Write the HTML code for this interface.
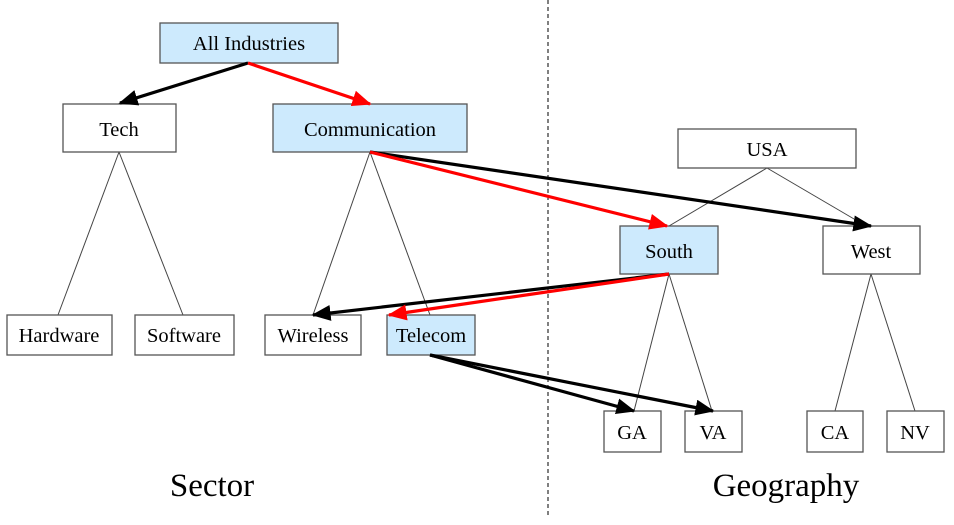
<!DOCTYPE html>
<html><head><meta charset="utf-8"><style>
html,body{margin:0;padding:0;background:#fff;}
svg{display:block;}
text{font-family:"Liberation Serif",serif;fill:#000;}
</style></head><body>
<svg width="954" height="525" viewBox="0 0 954 525" xmlns="http://www.w3.org/2000/svg">
<defs>
<marker id="ab" markerWidth="6" markerHeight="5" refX="5.5" refY="2.5" orient="auto" markerUnits="strokeWidth"><path d="M0,0 L6,2.5 L0,5 Z" fill="#000"/></marker>
<marker id="ar" markerWidth="6" markerHeight="5" refX="5.5" refY="2.5" orient="auto" markerUnits="strokeWidth"><path d="M0,0 L6,2.5 L0,5 Z" fill="#f00"/></marker>
</defs>
<line x1="548" y1="0" x2="548" y2="517" stroke="#000" stroke-width="1" stroke-dasharray="4,3"/>
<g stroke="#444" stroke-width="1" fill="none">
<line x1="119" y1="152" x2="58" y2="315"/><line x1="119" y1="152" x2="183" y2="315"/>
<line x1="370" y1="152" x2="313" y2="315"/><line x1="370" y1="152" x2="430" y2="315"/>
<line x1="767" y1="168" x2="669" y2="226"/><line x1="767" y1="168" x2="866" y2="226"/>
<line x1="669" y1="274" x2="634" y2="411"/><line x1="669" y1="274" x2="712" y2="411"/>
<line x1="871" y1="274" x2="835" y2="411"/><line x1="871" y1="274" x2="915" y2="411"/>
</g>
<g stroke="#555" stroke-width="1.3">
<rect x="160" y="23" width="178" height="40" fill="#cdeafd"/>
<rect x="63" y="104" width="113" height="48" fill="#fff"/>
<rect x="273" y="104" width="194" height="48" fill="#cdeafd"/>
<rect x="678" y="129" width="178" height="39" fill="#fff"/>
<rect x="620" y="226" width="98" height="48" fill="#cdeafd"/>
<rect x="823" y="226" width="97" height="48" fill="#fff"/>
<rect x="7" y="315" width="105" height="40" fill="#fff"/>
<rect x="135" y="315" width="99" height="40" fill="#fff"/>
<rect x="265" y="315" width="96" height="40" fill="#fff"/>
<rect x="387" y="315" width="88" height="40" fill="#cdeafd"/>
<rect x="604" y="411" width="57" height="41" fill="#fff"/>
<rect x="685" y="411" width="57" height="41" fill="#fff"/>
<rect x="807" y="411" width="56" height="41" fill="#fff"/>
<rect x="887" y="411" width="57" height="41" fill="#fff"/>
</g>
<g stroke-width="3.2" fill="none">
<line x1="248" y1="63" x2="120" y2="103" stroke="#000" marker-end="url(#ab)"/>
<line x1="248" y1="63" x2="370" y2="104" stroke="#f00" marker-end="url(#ar)"/>
<line x1="370" y1="152" x2="871" y2="226" stroke="#000" marker-end="url(#ab)"/>
<line x1="370" y1="152" x2="667" y2="226" stroke="#f00" marker-end="url(#ar)"/>
<line x1="669" y1="274" x2="313" y2="315" stroke="#000" marker-end="url(#ab)"/>
<line x1="669" y1="274" x2="389" y2="315" stroke="#f00" marker-end="url(#ar)"/>
<line x1="430" y1="355" x2="634" y2="411" stroke="#000" marker-end="url(#ab)"/>
<line x1="430" y1="355" x2="713" y2="411" stroke="#000" marker-end="url(#ab)"/>
</g>
<g font-size="20.5" text-anchor="middle">
<text x="249" y="50">All Industries</text>
<text x="119" y="136">Tech</text>
<text x="370" y="136">Communication</text>
<text x="767" y="156">USA</text>
<text x="669" y="258">South</text>
<text x="871" y="258">West</text>
<text x="59" y="342">Hardware</text>
<text x="184" y="342">Software</text>
<text x="313" y="342">Wireless</text>
<text x="431" y="342">Telecom</text>
<text x="632" y="439">GA</text>
<text x="713" y="439">VA</text>
<text x="835" y="439">CA</text>
<text x="915" y="439">NV</text>
<text x="212" y="496" font-size="33">Sector</text>
<text x="786" y="496" font-size="33">Geography</text>
</g>
</svg>
</body></html>
